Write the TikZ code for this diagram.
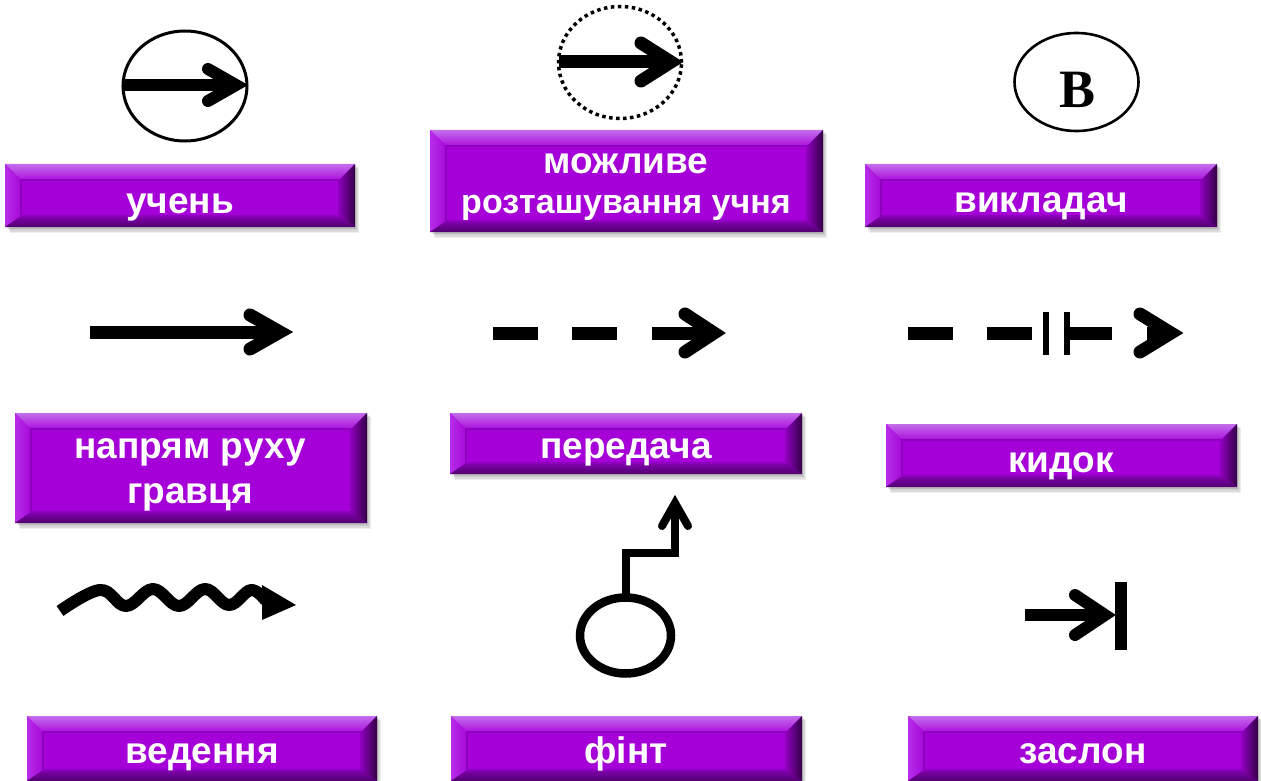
\documentclass[tikz,border=0pt]{standalone}
\usepackage{fontspec}
\setmainfont{Liberation Sans}
\newfontfamily\letterfont{Liberation Serif}
\usetikzlibrary{shapes.geometric}

% bevelled purple label plates
\definecolor{boxmain}{RGB}{165,0,215}
\definecolor{bvtopa}{RGB}{195,110,235}
\definecolor{bvtopb}{RGB}{205,70,245}
\definecolor{bvtopc}{RGB}{172,15,222}
\definecolor{bvlefta}{RGB}{182,45,232}
\definecolor{bvleftb}{RGB}{166,8,216}
\definecolor{bvrighta}{RGB}{140,0,185}
\definecolor{bvrightb}{RGB}{50,0,70}
\definecolor{bvbota}{RGB}{130,0,175}
\definecolor{bvbotb}{RGB}{80,0,110}
\definecolor{boxline}{RGB}{140,0,190}

\newcommand\bevelbox[4]{%
  \foreach \k in {1,2,3,4}{\fill[black,opacity=0.07] ({#1+1+\k},{#2+\k}) rectangle ({#3+\k},{#4+1.6*\k});}
  \fill[boxmain] (#1,#2) rectangle (#3,#4);
  \shade[top color=bvtopa, middle color=bvtopb, bottom color=bvtopc]
    (#1,#2) -- (#3,#2) -- ({#3-16},{#2+16}) -- ({#1+16},{#2+16}) -- cycle;
  \shade[left color=bvlefta, right color=bvleftb]
    (#1,#2) -- ({#1+16},{#2+16}) -- ({#1+16},{#4-11}) -- (#1,#4) -- cycle;
  \shade[left color=bvrighta, right color=bvrightb]
    (#3,#2) -- (#3,#4) -- ({#3-16},{#4-11}) -- ({#3-16},{#2+16}) -- cycle;
  \shade[top color=bvbota, bottom color=bvbotb]
    (#1,#4) -- (#3,#4) -- ({#3-16},{#4-11}) -- ({#1+16},{#4-11}) -- cycle;
  \draw[boxline, line width=1.2pt] ({#1+16},{#2+16}) rectangle ({#3-16},{#4-11});
}

\tikzset{
  lbl/.style={text=white, font=\fontsize{37}{40}\selectfont\bfseries, anchor=base, inner sep=0pt},
  lblsmall/.style={lbl, font=\fontsize{34}{40}\selectfont\bfseries},
  shaft/.style={line width=#1, line cap=butt},
  chev/.style={line width=#1, line cap=round, line join=miter},
  ring/.style={ellipse, draw, outer sep=0pt, inner sep=0pt},
}

\begin{document}
\begin{tikzpicture}[x=1pt,y=-1pt]
\useasboundingbox (0,0) rectangle (1261,781);
\fill[white] (0,0) rectangle (1261,781);

% ---------- row 1 ----------
% student
\node (student) [ring, line width=3pt, minimum width=124pt, minimum height=110pt] at (185,86) {};
\coordinate (student-tip) at (236,85);
\draw[shaft=12pt] (student.west |- student-tip) -- (student-tip);
\draw[chev=12pt] (208,69) -- (student-tip) -- (208,101);

% possible position of a student
\node (possible) [ring, line width=3.5pt, dash pattern=on 3.5pt off 3.5pt, minimum width=123pt, minimum height=112pt] at (620,62.5) {};
\coordinate (possible-tip) at (671,62);
\draw[shaft=13pt] (possible.west |- possible-tip) -- (possible-tip);
\draw[chev=13pt] (641,43) -- (possible-tip) -- (641,81);

% teacher
\node (teacher) [ring, line width=2.6pt, minimum width=124pt, minimum height=98pt] at (1076.5,82) {};
\node (teacher-letter) [anchor=base, inner sep=0pt, font=\fontsize{54}{54}\letterfont\bfseries] at (1077,107.5) {В};

\bevelbox{5}{164}{355}{227}
\node (t-student) [lbl] at (180,213) {учень};
\bevelbox{430}{130}{823}{232}
\node (t-possible-a) [lbl] at (626,173) {можливе};
\node (t-possible-b) [lblsmall] at (626,213) {розташування учня};
\bevelbox{865}{164}{1217}{227}
\node (t-teacher) [lbl] at (1041,212) {викладач};

% ---------- row 2 ----------
% direction of movement
\coordinate (move-start) at (90,332);
\coordinate (move-tip) at (280,332);
\draw[shaft=13pt] (move-start) -- (move-tip);
\draw[chev=13pt] (250,315) -- (move-tip) -- (250,349);

% pass
\coordinate (pass-tip) at (714,333);
\draw[shaft=13pt] (493,333) -- (538,333);
\draw[shaft=13pt] (572,333) -- (617,333);
\draw[shaft=13pt] (652,333) -- (pass-tip);
\draw[chev=13pt] (685,314) -- (pass-tip) -- (685,352);

% shot
\coordinate (shot-tip) at (1171,333);
\draw[shaft=13pt] (908,333) -- (953,333);
\draw[shaft=13pt] (987,333) -- (1032,333);
\draw[shaft=5.5pt] (1046,312) -- (1046,355);
\draw[shaft=5.5pt] (1067,312) -- (1067,355);
\draw[shaft=13pt] (1067,333) -- (1112,333);
\draw[shaft=13pt] (1147,333) -- (shot-tip);
\draw[chev=13pt] (1140,314) -- (shot-tip) -- (1140,352);

\bevelbox{15}{413}{367}{523}
\node (t-move-a) [lbl] at (190,458) {напрям руху};
\node (t-move-b) [lbl] at (190,503) {гравця};
\bevelbox{450}{413}{802}{474}
\node (t-pass) [lbl] at (626,458) {передача};
\bevelbox{886}{424}{1237}{487}
\node (t-shot) [lbl] at (1061,472) {кидок};

% ---------- row 3 ----------
% dribbling
\draw[line width=12pt, line cap=butt, line join=round]
  plot[smooth, tension=0.65] coordinates {(60,611) (100,590) (126,606) (153,589) (179,606) (205,589) (229,605) (251,590) (266,601)};
\coordinate (dribble-tip) at (296,605);
\fill (262,585) -- (dribble-tip) -- (262,620) -- cycle;

% feint
\node (feint) [ring, line width=8.5pt, minimum width=91pt, minimum height=76pt] at (625.5,635.5) {};
\coordinate (feint-tip) at (675,503);
\draw[line width=8pt, line join=miter, line cap=butt] (feint.north) |- (675,553) -- (feint-tip);
\draw[chev=8pt] (662,526) -- (feint-tip) -- (688,526);

% screen
\coordinate (screen-tip) at (1105,615);
\draw[shaft=12pt] (1025,615) -- (screen-tip);
\draw[chev=12pt] (1075,595) -- (screen-tip) -- (1075,635);
\draw[shaft=12pt] (1121,582) -- (1121,650);

\bevelbox{27}{716}{377}{781}
\node (t-dribble) [lbl] at (202,763) {ведення};
\bevelbox{451}{716}{802}{781}
\node (t-feint) [lbl] at (626,763) {фінт};
\bevelbox{908}{716}{1258}{781}
\node (t-screen) [lbl] at (1083,763) {заслон};
\end{tikzpicture}
\end{document}
